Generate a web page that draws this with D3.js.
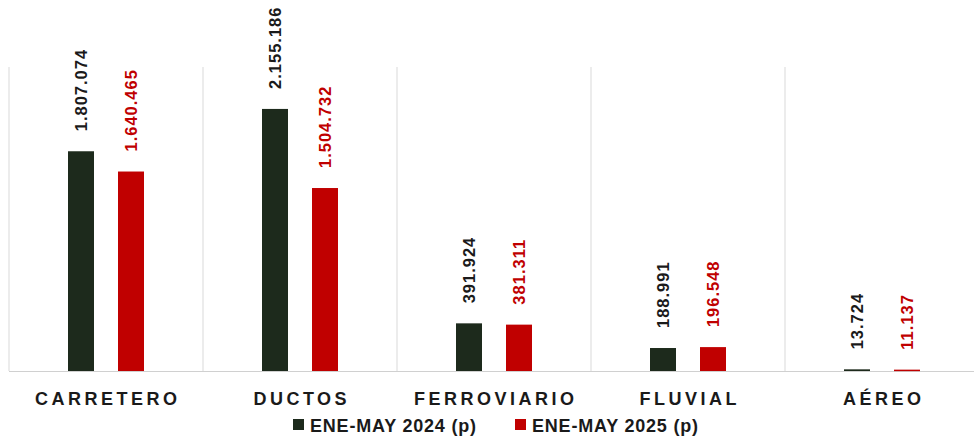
<!DOCTYPE html>
<html>
<head>
<meta charset="utf-8">
<script src="https://cdn.jsdelivr.net/npm/d3@7"></script>
<style>
  html, body { margin: 0; padding: 0; background: #fff; }
  svg text { font-family: "Liberation Sans", Arial, sans-serif; font-weight: bold; }
</style>
</head>
<body>
<svg id="chart" width="974" height="436"></svg>
<script>
// data
const categories = ['CARRETERO', 'DUCTOS', 'FERROVIARIO', 'FLUVIAL', 'AÉREO'];
const seriesNames = ['ENE-MAY 2024 (p)', 'ENE-MAY 2025 (p)'];
const values2024 = [1807074, 2155186, 391924, 188991, 13724];
const values2025 = [1640465, 1504732, 381311, 196548, 11137];

const COLORS = ['#1d2a1c', '#c00000'];
const LABEL_COLORS = ['#1a1a1a', '#c00000'];

const svg = d3.select('#chart');
const TOP = 67, BASE = 371;

const x0 = d3.scaleBand().domain(categories).range([9, 979]).paddingInner(0).paddingOuter(0);
const bw = x0.bandwidth();
const x1 = d3.scaleBand().domain(seriesNames).range([bw / 2 - 38, bw / 2 + 38]).paddingInner(0.48);
const y = d3.scaleLinear().domain([0, 2500000]).range([BASE, TOP]);

const es = d3.formatLocale({ decimal: ',', thousands: '.', grouping: [3], currency: ['', ''] });
const fmt = es.format(',d');

// category separators + baseline
const edges = categories.map((c) => x0(c)).concat([x0.range()[1]]);
svg.append('g').selectAll('line')
  .data(edges)
  .join('line')
  .attr('x1', (d) => d).attr('x2', (d) => d)
  .attr('y1', TOP).attr('y2', BASE)
  .attr('stroke', '#d9d9d9').attr('stroke-width', 1);

svg.append('line')
  .attr('x1', 9).attr('x2', 974)
  .attr('y1', BASE + 0.5).attr('y2', BASE + 0.5)
  .attr('stroke', '#d0d0d0').attr('stroke-width', 1.2);

const rows = categories.map((c, i) => ({
  cat: c,
  vals: [values2024[i], values2025[i]].map((v, s) => ({ cat: c, s, name: seriesNames[s], v })),
}));

const groups = svg.append('g').selectAll('g')
  .data(rows)
  .join('g')
  .attr('transform', (d) => `translate(${x0(d.cat)},0)`);

groups.selectAll('rect')
  .data((d) => d.vals)
  .join('rect')
  .attr('x', (d) => x1(d.name))
  .attr('width', x1.bandwidth())
  .attr('y', (d) => y(d.v))
  .attr('height', (d) => Math.max(1.5, BASE - y(d.v)))
  .attr('fill', (d) => COLORS[d.s]);

groups.selectAll('text.val')
  .data((d) => d.vals)
  .join('text')
  .attr('class', 'val')
  .attr('transform', (d) => `translate(${x1(d.name) + x1.bandwidth() / 2 + 6},${y(d.v) - 20}) rotate(-90)`)
  .attr('text-anchor', 'start')
  .style('font-size', '16.5px')
  .style('letter-spacing', '1px')
  .attr('fill', (d) => LABEL_COLORS[d.s])
  .text((d) => fmt(d.v));

// category axis labels
svg.append('g').selectAll('text')
  .data(categories)
  .join('text')
  .attr('x', (d) => x0(d) + bw / 2 + 1.75)
  .attr('y', 405)
  .attr('text-anchor', 'middle')
  .style('font-size', '18px')
  .style('letter-spacing', '3.5px')
  .attr('fill', '#1a1a1a')
  .text((d) => d);

// legend
const legendX = [293, 515];
const legend = svg.append('g').selectAll('g')
  .data(seriesNames)
  .join('g')
  .attr('transform', (d, i) => `translate(${legendX[i]},0)`);
legend.append('rect')
  .attr('x', 0).attr('y', 419).attr('width', 11).attr('height', 11)
  .attr('fill', (d, i) => COLORS[i]);
legend.append('text')
  .attr('x', 17).attr('y', 432)
  .style('font-size', '18px')
  .style('letter-spacing', '0.8px')
  .attr('fill', '#1a1a1a')
  .text((d) => d);
</script>
</body>
</html>
